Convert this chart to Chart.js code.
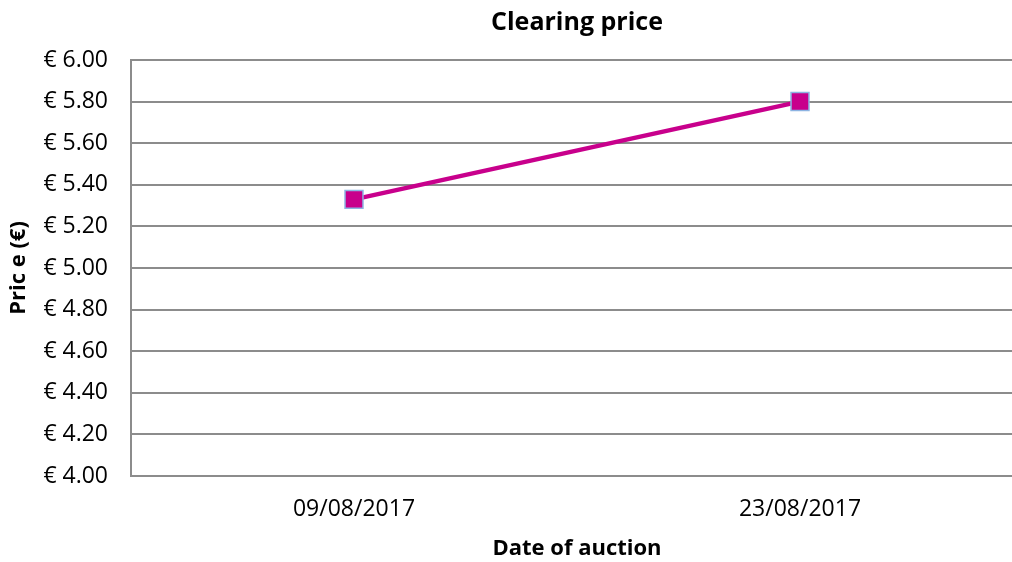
<!DOCTYPE html>
<html><head><meta charset="utf-8">
<script src="https://cdn.jsdelivr.net/npm/chart.js@4"></script>
<style>
html,body{margin:0;padding:0;background:#fff;overflow:hidden;width:1012px;height:562px;}
#wrap{position:absolute;left:0;top:0;width:1150px;height:562px;}
</style></head>
<body>
<div id="wrap"><canvas id="c"></canvas></div>
<script>
const categories = ['09/08/2017', '23/08/2017'];
const clearingPrice = [5.33, 5.80];
const yMin = 4.00, yMax = 6.00, yStep = 0.20;
const chartTitle = 'Clearing price';
const xTitle = 'Date of auction';
const yTitle = 'Pric e (€)';

const FONT = '"Open Sans", "Liberation Sans", sans-serif';
const PLOT = {left: 131, top: 60, bottom: 476, right: 1023};
const W = 1150, H = 562;

const titlePlugin = {
  id: 'centerTitle',
  afterDraw(chart) {
    const ctx = chart.ctx, a = chart.chartArea;
    ctx.save();
    ctx.font = 'bold 25px ' + FONT;
    ctx.fillStyle = '#000';
    ctx.textAlign = 'center';
    ctx.textBaseline = 'middle';
    ctx.fillText(chartTitle, (a.left + a.right) / 2, 23);
    ctx.restore();
  }
};

new Chart(document.getElementById('c'), {
  type: 'line',
  data: {
    labels: categories,
    datasets: [{
      data: clearingPrice,
      borderColor: '#C8008C',
      backgroundColor: '#C8008C',
      borderWidth: 4.5,
      pointStyle: 'rect',
      pointRadius: 12.7,
      pointHoverRadius: 12.7,
      pointBackgroundColor: '#C8008C',
      pointBorderColor: '#8DB4E2',
      pointBorderWidth: 1.5,
      tension: 0
    }]
  },
  options: {
    responsive: true,
    maintainAspectRatio: false,
    animation: false,
    events: [],
    layout: {padding: {top: PLOT.top, right: W - PLOT.right, left: 6, bottom: 0}},
    plugins: {legend: {display: false}, tooltip: {enabled: false}, title: {display: false}},
    scales: {
      x: {
        offset: true,
        grid: {display: false, drawTicks: false},
        border: {display: true, color: '#8C8C8C', width: 2},
        ticks: {padding: 20, color: '#000', font: {family: FONT, size: 23}, maxRotation: 0},
        title: {display: true, text: xTitle, color: '#000', font: {family: FONT, size: 22, weight: 'bold'}, padding: {top: 8, bottom: 0}},
        afterFit(s) { s.height = H - PLOT.bottom; }
      },
      y: {
        min: yMin, max: yMax,
        grid: {color: '#8C8C8C', lineWidth: 2, drawTicks: false},
        border: {display: true, color: '#8C8C8C', width: 2},
        ticks: {stepSize: yStep, padding: 23, color: '#000', font: {family: FONT, size: 23},
          callback: v => '€ ' + Number(v).toFixed(2)},
        title: {display: true, text: yTitle, color: '#000', font: {family: FONT, size: 22, weight: 'bold'}, padding: {top: 0, bottom: 0}},
        afterFit(s) { s.width = PLOT.left - 6; }
      }
    }
  },
  plugins: [titlePlugin]
});
</script>
</body></html>
